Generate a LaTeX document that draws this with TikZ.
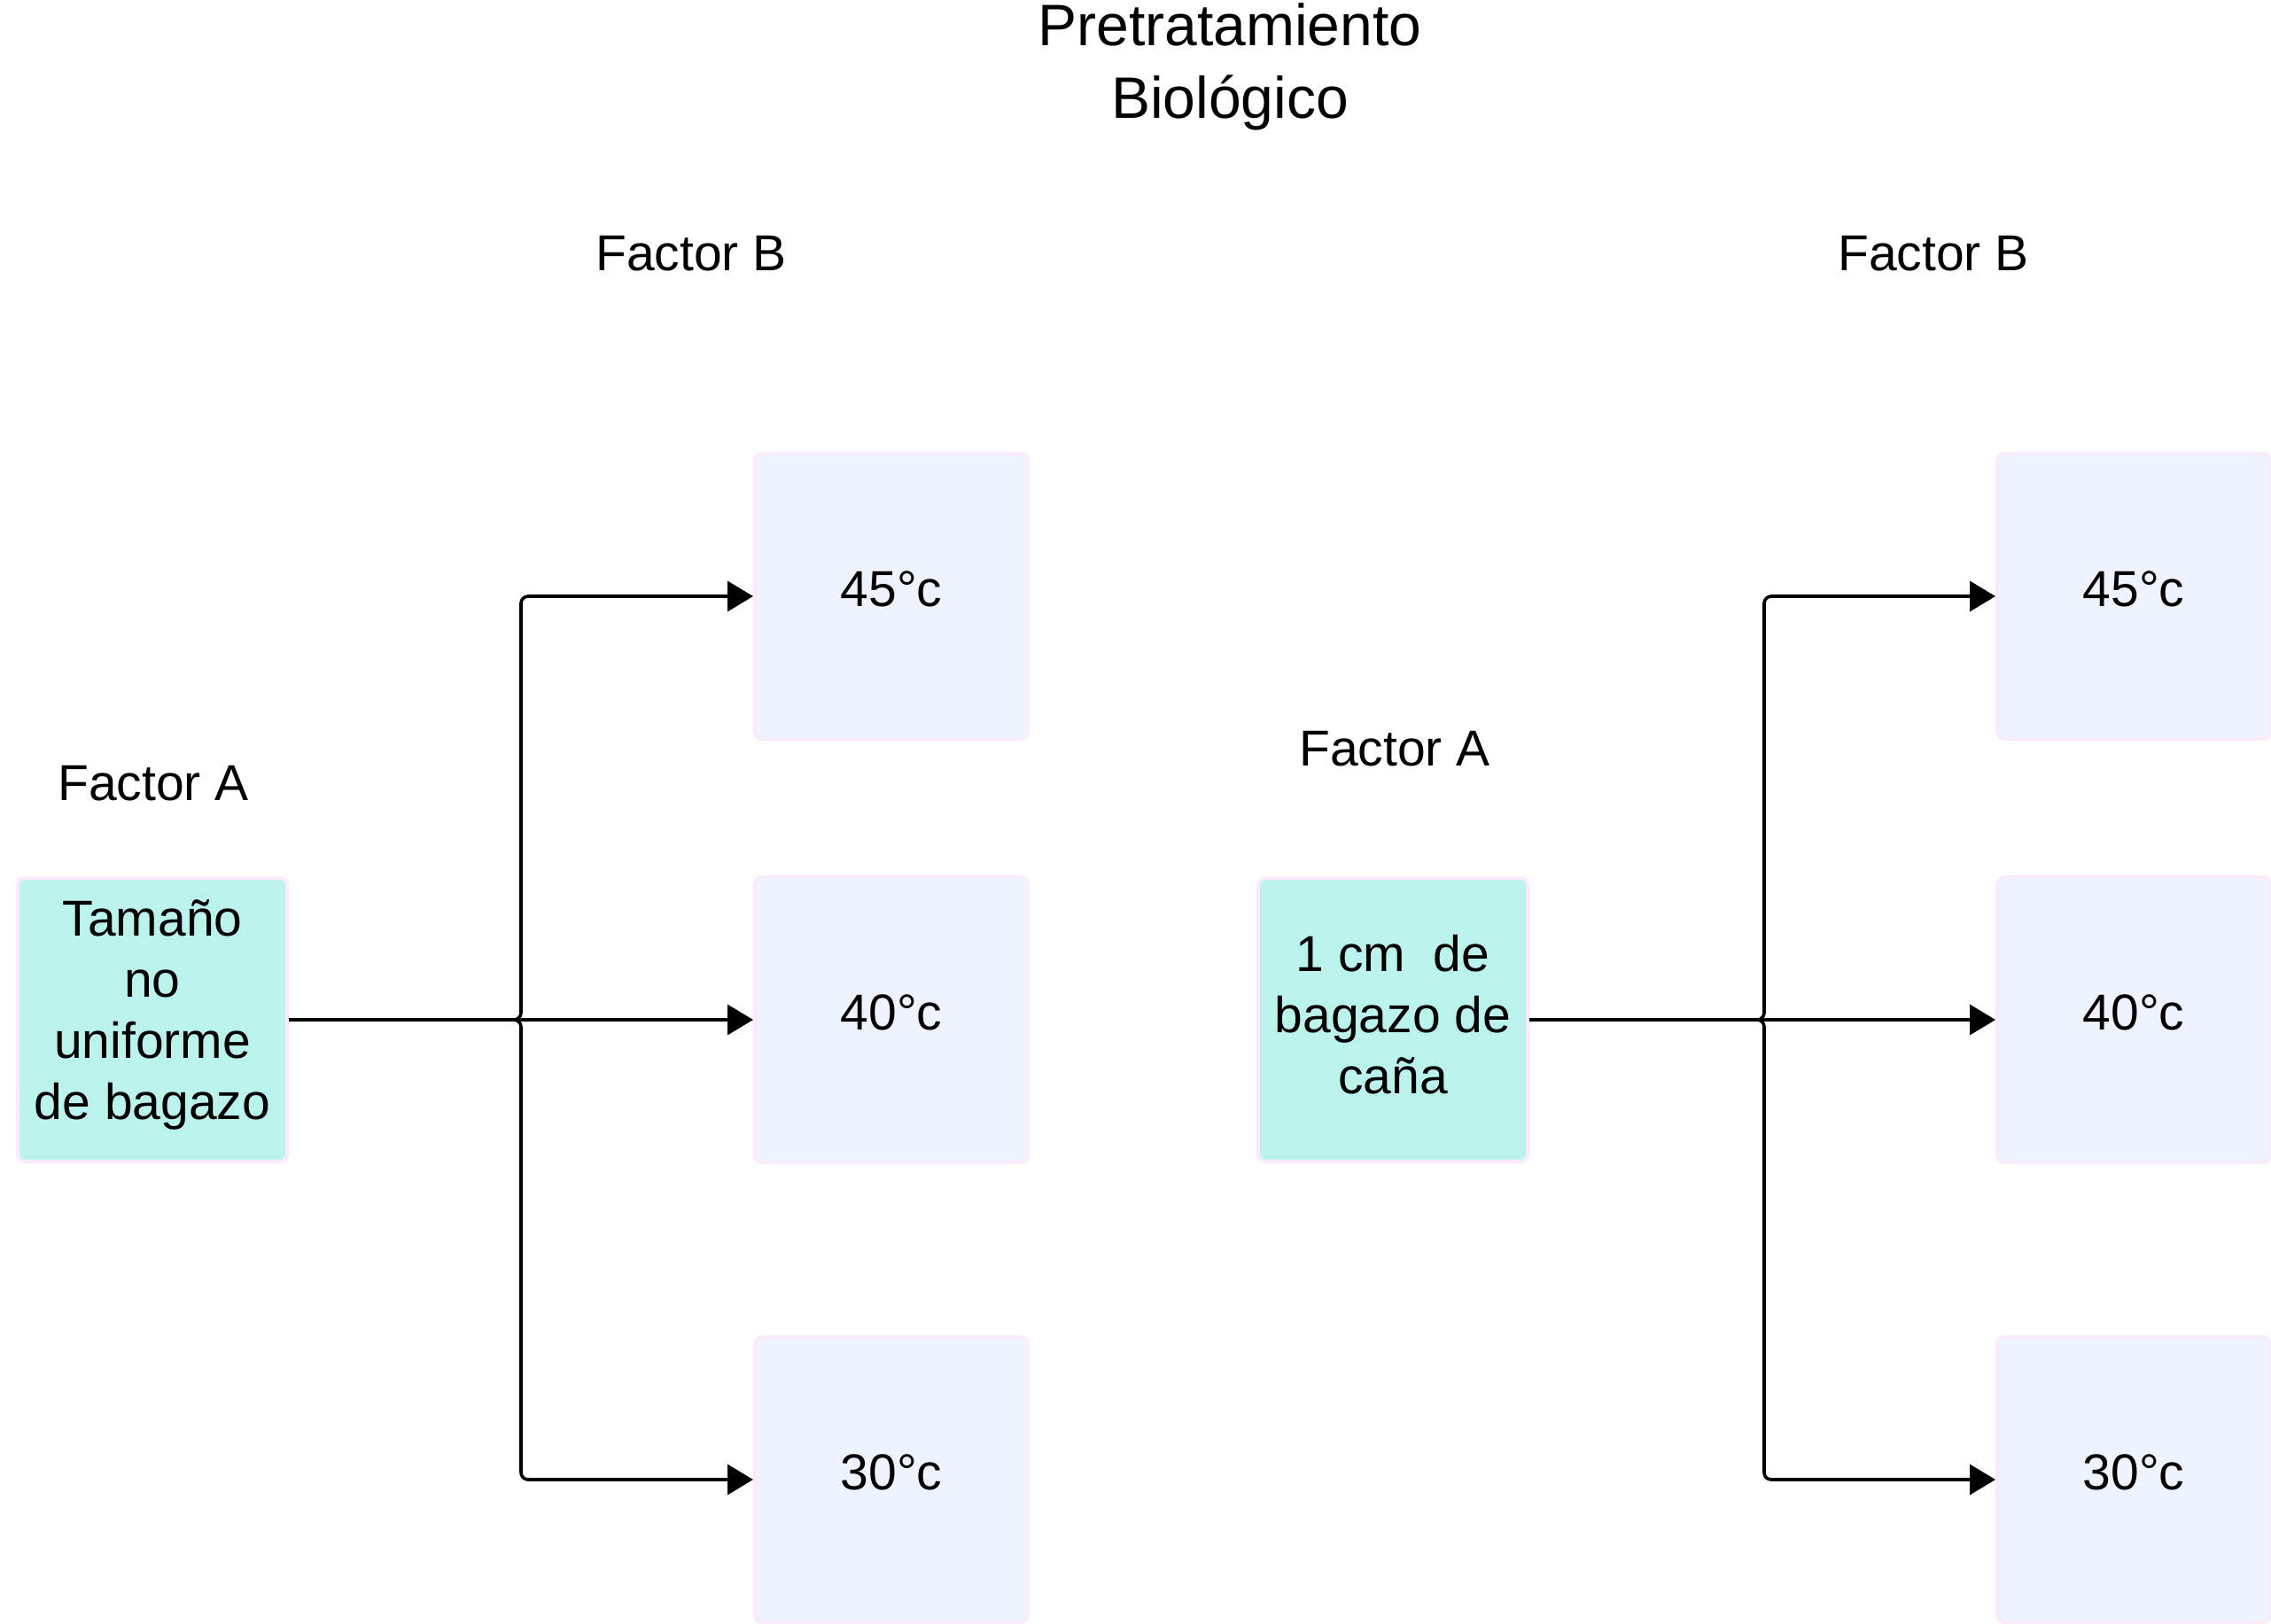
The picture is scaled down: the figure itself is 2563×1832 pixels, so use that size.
\documentclass[tikz,border=0pt]{standalone}
\usepackage{fontspec}
\setmainfont{Liberation Sans}
\usetikzlibrary{arrows.meta}
\definecolor{tealfill}{RGB}{185,243,236}
\definecolor{bluefill}{RGB}{238,244,255}
\definecolor{pinkline}{RGB}{250,234,250}
\tikzset{
  factorbox/.style={draw=pinkline, line width=2pt, rounded corners=4pt, fill=tealfill,
    minimum width=152pt, minimum height=160pt, align=center, inner sep=2pt,
    font=\fontsize{28.5}{34.5}\selectfont},
  tempbox/.style={factorbox, fill=bluefill, minimum width=154pt, minimum height=161pt, text depth=8pt},
  lbl/.style={align=center, font=\fontsize{28.5}{34.5}\selectfont},
  link/.style={line width=1.8pt, rounded corners=4pt, -{Triangle[length=14.5pt,width=17pt]}}
}
\begin{document}
\begin{tikzpicture}[x=0.5pt, y=-0.5pt]
\useasboundingbox (0,0) rectangle (2563,1832);
% titles
\node[lbl, font=\fontsize{33}{41}\selectfont] (title) at (1388,75) {Pretratamiento\\Biológico};
\node[lbl] (fbl) at (780,286) {Factor B};
\node[lbl] (fbr) at (2182,286) {Factor B};
\node[lbl] (fal) at (173,884) {Factor A};
\node[lbl] (far) at (1574,845) {Factor A};
% factor A
\node[factorbox, text depth=11pt] (tal) at (172,1151) {Tamaño\\no\\uniforme\\de bagazo};
\node[factorbox, text depth=6.6pt] (tar) at (1572,1151) {1 cm\ \ de\\bagazo de\\caña};
% factor B, left
\node[tempbox] (l45) at (1006,673) {45°c};
\node[tempbox] (l40) at (1006,1151) {40°c};
\node[tempbox] (l30) at (1006,1670) {30°c};
% factor B, right
\node[tempbox] (r45) at (2408,673) {45°c};
\node[tempbox] (r40) at (2408,1151) {40°c};
\node[tempbox] (r30) at (2408,1670) {30°c};
% links
\coordinate (busl) at (588,1151);
\coordinate (busr) at (1991,1151);
\draw[link] (tal.east) -- (busl) |- (l45.west);
\draw[link] (tal.east) -- (l40.west);
\draw[link] (tal.east) -- (busl) |- (l30.west);
\draw[link] (tar.east) -- (busr) |- (r45.west);
\draw[link] (tar.east) -- (r40.west);
\draw[link] (tar.east) -- (busr) |- (r30.west);
\end{tikzpicture}
\end{document}
